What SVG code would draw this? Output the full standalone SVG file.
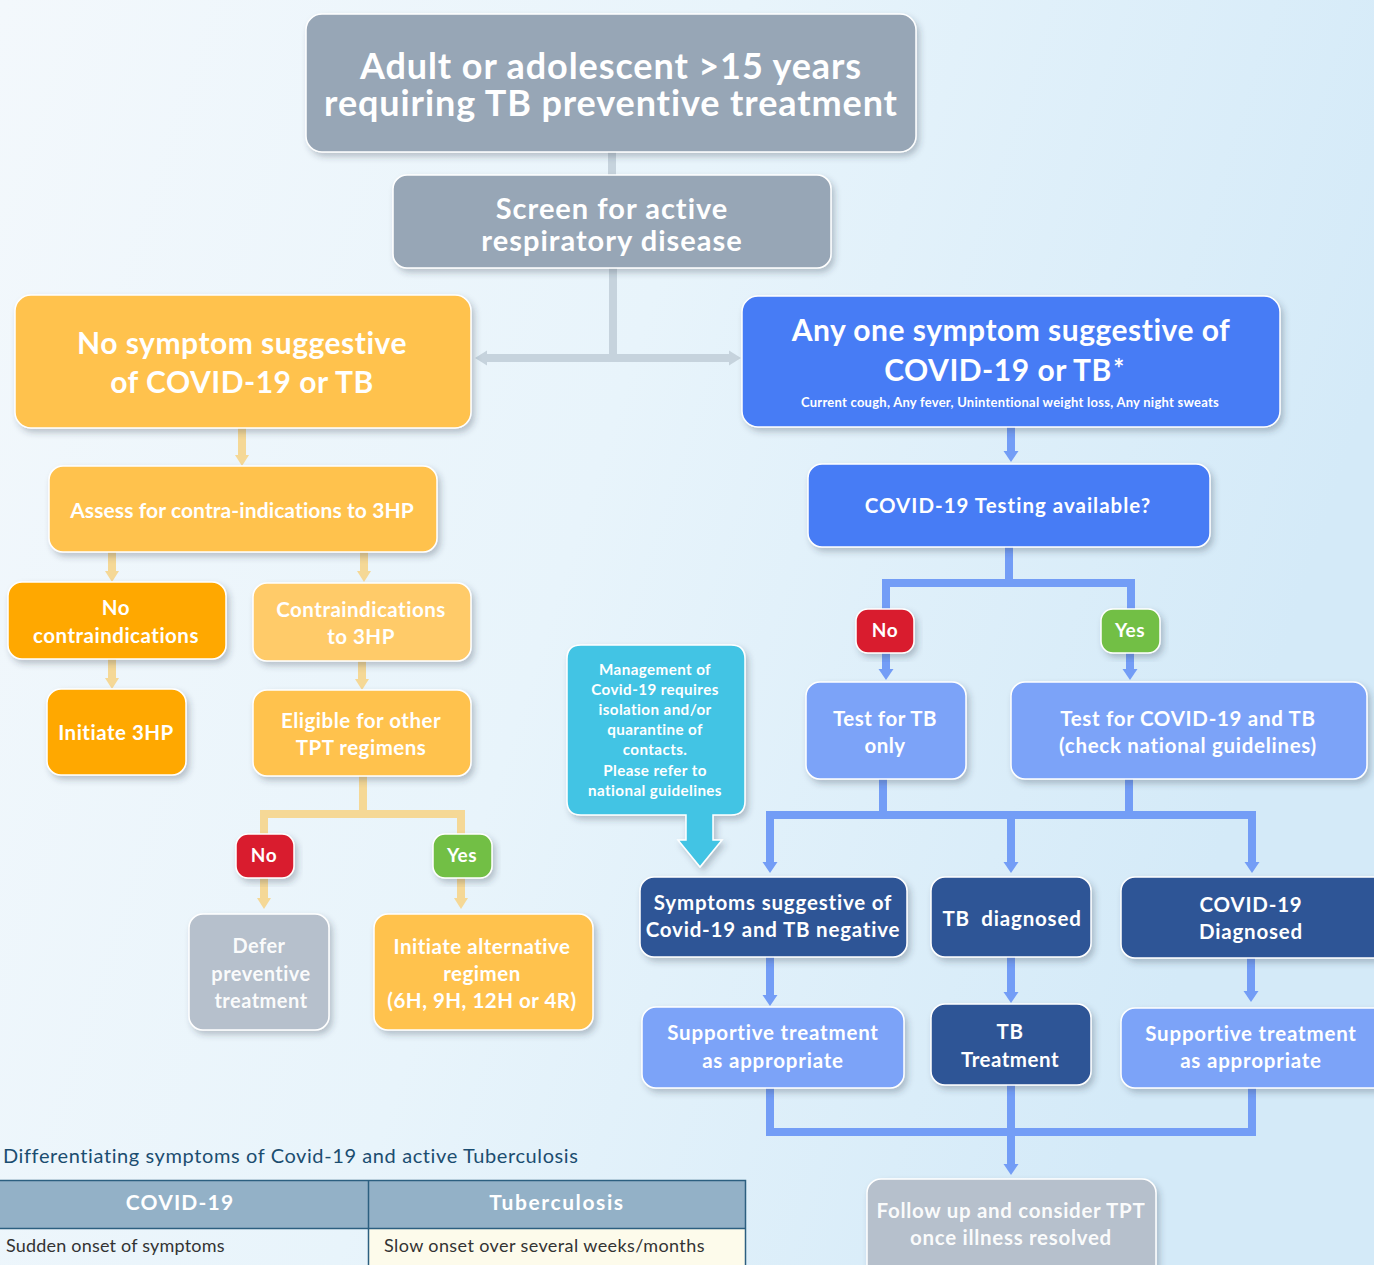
<svg xmlns="http://www.w3.org/2000/svg" width="1374" height="1265" viewBox="0 0 1374 1265">
<defs>
<linearGradient id="bg" x1="0" y1="0" x2="1" y2="0.3">
<stop offset="0" stop-color="#f3f8fc"/>
<stop offset="0.5" stop-color="#e8f4fb"/>
<stop offset="1" stop-color="#d4eaf8"/>
</linearGradient>
<filter id="sh" x="-10%" y="-10%" width="125%" height="130%">
<feDropShadow dx="3" dy="4" stdDeviation="3" flood-color="#2a3a4a" flood-opacity="0.28"/>
</filter>
<marker id="ay" viewBox="0 -8 12 16" refX="0" refY="0" markerWidth="12" markerHeight="16" markerUnits="userSpaceOnUse" orient="auto"><path d="M0,-7 L11,0 L0,7 z" fill="#f5d896"/></marker>
<marker id="ab" viewBox="0 -8 12 16" refX="0" refY="0" markerWidth="12" markerHeight="16" markerUnits="userSpaceOnUse" orient="auto"><path d="M0,-7.5 L11,0 L0,7.5 z" fill="#739df6"/></marker>
<marker id="ag" viewBox="0 -8 12 16" refX="0" refY="0" markerWidth="12" markerHeight="16" markerUnits="userSpaceOnUse" orient="auto-start-reverse"><path d="M0,-7.5 L12,0 L0,7.5 z" fill="#c6d3dd"/></marker>
</defs>
<style>
.t{font-family:"Lato","Liberation Sans",sans-serif;font-weight:bold;fill:#ffffff;text-anchor:middle;letter-spacing:0.5px}
.box{stroke:#ffffff;stroke-width:1.5;filter:url(#sh)}
.gray{fill:#97a6b6}
.gray2{fill:#b6c0cc}
.yel{fill:#ffc24e}
.org{fill:#ffa800}
.lyel{fill:#ffcb69}
.blue{fill:#477bf5}
.lblue{fill:#7ba3f8}
.dblue{fill:#2f5496}
.red{fill:#d91f2e}
.green{fill:#72bf44}
.cyan{fill:#43c4e4}
.cy{fill:none;stroke:#f5d896;stroke-width:8}
.cb{fill:none;stroke:#739df6;stroke-width:8}
.cg{fill:none;stroke:#c6d3dd;stroke-width:8}
.tb{font-family:"Lato","Liberation Sans",sans-serif}
</style>
<rect width="1374" height="1265" fill="url(#bg)"/>

<g id="connectors">
<path class="cg" d="M612,152 V175"/>
<path class="cg" d="M613,268 V358"/>
<path class="cg" d="M487,358 H729" marker-start="url(#ag)" marker-end="url(#ag)"/>
<path class="cy" d="M242,428 V455" marker-end="url(#ay)"/>
<path class="cy" d="M112,552 V571" marker-end="url(#ay)"/>
<path class="cy" d="M364,552 V571" marker-end="url(#ay)"/>
<path class="cy" d="M112,659 V678" marker-end="url(#ay)"/>
<path class="cy" d="M362,661 V679" marker-end="url(#ay)"/>
<path class="cy" d="M363,776 V814 M260,814 H465 M264,814 V835 M461,814 V835"/>
<path class="cy" d="M264,878 V898" marker-end="url(#ay)"/>
<path class="cy" d="M461,878 V898" marker-end="url(#ay)"/>
<path class="cb" d="M1011,427 V451" marker-end="url(#ab)"/>
<path class="cb" d="M1009,547 V583 M882,583 H1135 M886,583 V609 M1131,583 V609"/>
<path class="cb" d="M886,653 V669" marker-end="url(#ab)"/>
<path class="cb" d="M1130,653 V669" marker-end="url(#ab)"/>
<path class="cb" d="M883,779 V815 M1129,779 V815 M766,815 H1256 M770,815 V862 M1011,815 V862 M1252,815 V862"/>
<path class="cb" d="M770,862 V862.1" marker-end="url(#ab)"/>
<path class="cb" d="M1011,862 V862.1" marker-end="url(#ab)"/>
<path class="cb" d="M1252,862 V862.1" marker-end="url(#ab)"/>
<path class="cb" d="M770,957 V995" marker-end="url(#ab)"/>
<path class="cb" d="M1011,957 V992" marker-end="url(#ab)"/>
<path class="cb" d="M1251,957 V991" marker-end="url(#ab)"/>
<path class="cb" d="M770,1088 V1132 M1252,1088 V1132 M766,1132 H1256 M1011,1084 V1164"/>
<path class="cb" d="M1011,1164 V1164.1" marker-end="url(#ab)"/>
</g>

<g id="n-start"><rect class="box gray" x="306" y="14" width="610" height="138" rx="16"/>
<text class="t" font-size="36" style="letter-spacing:0.9px"><tspan x="611" y="79">Adult or adolescent &gt;15 years</tspan><tspan x="611" y="116">requiring TB preventive treatment</tspan></text></g>

<g id="n-screen"><rect class="box gray" x="393" y="175" width="438" height="93" rx="14"/>
<text class="t" font-size="29" style="letter-spacing:1px"><tspan x="612" y="219">Screen for active</tspan><tspan x="612" y="251">respiratory disease</tspan></text></g>

<g id="n-nosym"><rect class="box yel" x="15" y="295" width="456" height="133" rx="16"/>
<text class="t" font-size="30"><tspan x="242" y="354">No symptom suggestive</tspan><tspan x="242" y="393">of COVID-19 or TB</tspan></text></g>

<g id="n-anysym"><rect class="box blue" x="742" y="296" width="538" height="131" rx="16"/>
<text class="t" font-size="30"><tspan x="1011" y="341">Any one symptom suggestive of</tspan><tspan x="998" y="381">COVID-19 or TB</tspan></text>
<text class="t" font-size="26" x="1119" y="378">*</text>
<text class="t" font-size="13" x="1010" y="407" style="letter-spacing:0.25px">Current cough, Any fever, Unintentional weight loss, Any night sweats</text></g>

<g id="n-assess"><rect class="box yel" x="49" y="466" width="388" height="86" rx="14"/>
<text class="t" font-size="21" x="242" y="518" style="letter-spacing:0.1px">Assess for contra-indications to 3HP</text></g>

<g id="n-nocontra"><rect class="box org" x="8" y="582" width="218" height="77" rx="14"/>
<text class="t" font-size="20.5"><tspan x="116" y="615">No</tspan><tspan x="116" y="643">contraindications</tspan></text></g>

<g id="n-contra"><rect class="box lyel" x="253" y="583" width="218" height="78" rx="14"/>
<text class="t" font-size="20.5"><tspan x="361" y="617">Contraindications</tspan><tspan x="361" y="644">to 3HP</tspan></text></g>

<g id="n-init3hp"><rect class="box org" x="47" y="689" width="139" height="86" rx="14"/>
<text class="t" font-size="20.5" x="116" y="740">Initiate 3HP</text></g>

<g id="n-eligible"><rect class="box yel" x="253" y="690" width="218" height="86" rx="14"/>
<text class="t" font-size="20.5"><tspan x="361" y="728">Eligible for other</tspan><tspan x="361" y="755">TPT regimens</tspan></text></g>

<g id="n-no-left"><rect class="box red" x="236" y="834" width="58" height="44" rx="12"/>
<text class="t" font-size="19" x="264" y="862">No</text></g>

<g id="n-yes-left"><rect class="box green" x="433" y="834" width="59" height="44" rx="12"/>
<text class="t" font-size="19" x="462" y="862">Yes</text></g>

<g id="n-defer"><rect class="box gray2" x="189" y="914" width="140" height="116" rx="14"/>
<text class="t" font-size="20" fill-opacity="0.95"><tspan x="259" y="953">Defer</tspan><tspan x="261" y="981">preventive</tspan><tspan x="261" y="1008">treatment</tspan></text></g>

<g id="n-altreg"><rect class="box yel" x="374" y="914" width="219" height="116" rx="14"/>
<text class="t" font-size="20.5"><tspan x="482" y="954">Initiate alternative</tspan><tspan x="482" y="981">regimen</tspan><tspan x="482" y="1008">(6H, 9H, 12H or 4R)</tspan></text></g>

<g id="n-testing"><rect class="box blue" x="808" y="464" width="402" height="83" rx="14"/>
<text class="t" font-size="20.5" x="1008" y="513" style="letter-spacing:1px">COVID-19 Testing available?</text></g>

<g id="n-no-right"><rect class="box red" x="856" y="609" width="58" height="44" rx="12"/>
<text class="t" font-size="19" x="885" y="637">No</text></g>

<g id="n-yes-right"><rect class="box green" x="1101" y="609" width="59" height="44" rx="12"/>
<text class="t" font-size="19" x="1130" y="637">Yes</text></g>

<g id="n-testtb"><rect class="box lblue" x="806" y="682" width="160" height="97" rx="14"/>
<text class="t" font-size="20.5"><tspan x="885" y="726">Test for TB</tspan><tspan x="885" y="753">only</tspan></text></g>

<g id="n-testboth"><rect class="box lblue" x="1011" y="682" width="356" height="97" rx="14"/>
<text class="t" font-size="20.5" style="letter-spacing:0.7px"><tspan x="1188" y="726">Test for COVID-19 and TB</tspan><tspan x="1188" y="753">(check national guidelines)</tspan></text></g>

<g id="n-callout">
<path class="box cyan" d="M581,645 H731 Q745,645 745,659 V801 Q745,815 731,815 H713 V840 H722 L700,867 L678,840 H686 V815 H581 Q567,815 567,801 V659 Q567,645 581,645 Z"/>
<text class="t" font-size="15.2" style="letter-spacing:0.4px"><tspan x="655" y="675">Management of</tspan><tspan x="655" y="695">Covid-19 requires</tspan><tspan x="655" y="715">isolation and/or</tspan><tspan x="655" y="735">quarantine of</tspan><tspan x="655" y="755">contacts.</tspan><tspan x="655" y="776">Please refer to</tspan><tspan x="655" y="796">national guidelines</tspan></text></g>

<g id="n-symneg"><rect class="box dblue" x="640" y="877" width="267" height="80" rx="14"/>
<text class="t" font-size="20.5" style="letter-spacing:0.8px"><tspan x="773" y="910">Symptoms suggestive of</tspan><tspan x="773" y="937">Covid-19 and TB negative</tspan></text></g>

<g id="n-tbdiag"><rect class="box dblue" x="931" y="877" width="160" height="80" rx="14"/>
<text class="t" font-size="20.5" x="1012" y="926" xml:space="preserve" style="letter-spacing:0.8px">TB  diagnosed</text></g>

<g id="n-coviddiag"><rect class="box dblue" x="1121" y="877" width="270" height="81" rx="14"/>
<text class="t" font-size="20.5" style="letter-spacing:0.8px"><tspan x="1251" y="912">COVID-19</tspan><tspan x="1251" y="939">Diagnosed</tspan></text></g>

<g id="n-supp1"><rect class="box lblue" x="642" y="1007" width="262" height="81" rx="14"/>
<text class="t" font-size="20.5" style="letter-spacing:0.8px"><tspan x="773" y="1040">Supportive treatment</tspan><tspan x="773" y="1068">as appropriate</tspan></text></g>

<g id="n-tbtreat"><rect class="box dblue" x="931" y="1004" width="160" height="81" rx="14"/>
<text class="t" font-size="20.5"><tspan x="1010" y="1039">TB</tspan><tspan x="1010" y="1067">Treatment</tspan></text></g>

<g id="n-supp2"><rect class="box lblue" x="1121" y="1008" width="270" height="80" rx="14"/>
<text class="t" font-size="20.5" style="letter-spacing:0.8px"><tspan x="1251" y="1041">Supportive treatment</tspan><tspan x="1251" y="1068">as appropriate</tspan></text></g>

<g id="n-followup"><rect class="box gray2" x="867" y="1179" width="289" height="100" rx="14"/>
<text class="t" font-size="20.5" fill-opacity="0.95" style="letter-spacing:0.7px"><tspan x="1011" y="1218">Follow up and consider TPT</tspan><tspan x="1011" y="1245">once illness resolved</tspan></text></g>

<g id="table">
<text class="tb" font-size="20" fill="#1b4d70" x="3" y="1163" style="letter-spacing:0.6px">Differentiating symptoms of Covid-19 and active Tuberculosis</text>
<rect x="0" y="1180" width="746" height="49" fill="#93b1c7"/>
<rect x="369" y="1229" width="377" height="40" fill="#fdfbeb"/>
<path d="M0,1180.5 H745.5 V1265 M0,1228.5 H745.5 M368.5,1180 V1265" fill="none" stroke="#2c5f80" stroke-width="1.5"/>
<text class="t" font-size="21" x="180" y="1210" style="letter-spacing:1.2px">COVID-19</text>
<text class="t" font-size="21" x="557" y="1210" style="letter-spacing:1.6px">Tuberculosis</text>
<text class="tb" font-size="18" fill="#333333" x="6" y="1252" style="letter-spacing:0.2px">Sudden onset of symptoms</text>
<text class="tb" font-size="18" fill="#333333" x="384" y="1252" style="letter-spacing:0.4px">Slow onset over several weeks/months</text>
</g>
</svg>
